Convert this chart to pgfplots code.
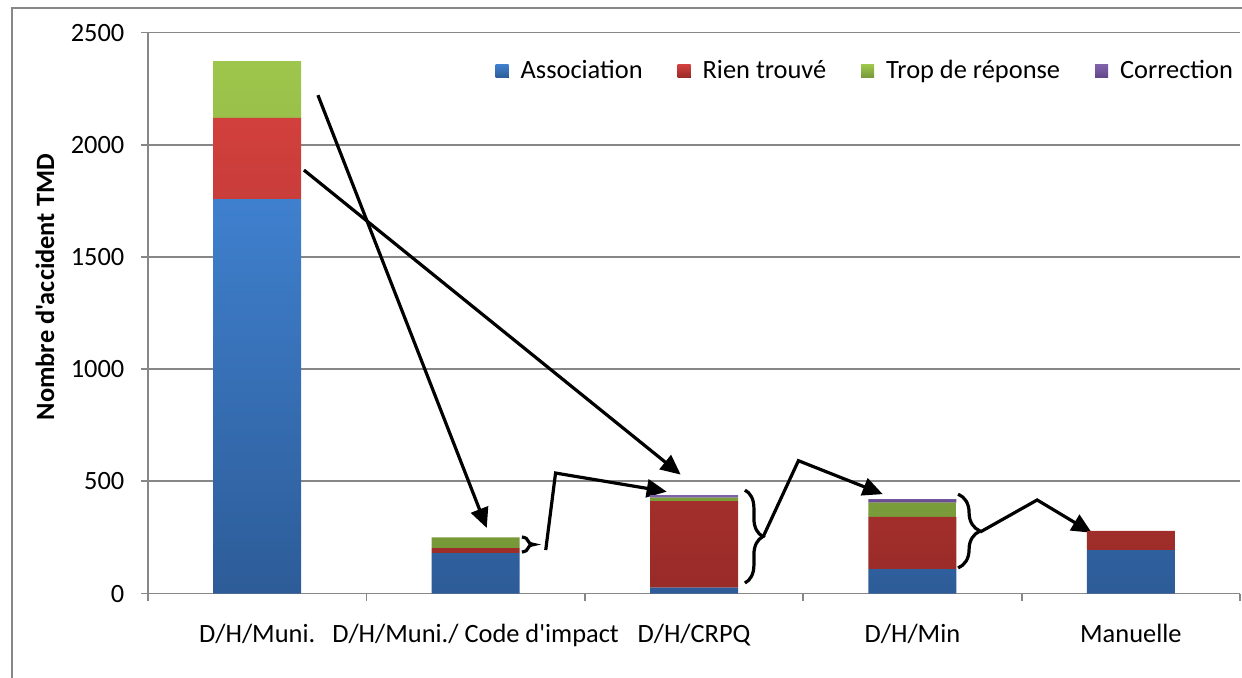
\documentclass[border=0pt]{standalone}
\usepackage{pgfplots}
\pgfplotsset{compat=1.18}
\usepackage{pgfplotstable}
\usepackage{fontspec}
\setmainfont{Carlito}[Ligatures=TeXOff]
\usetikzlibrary{arrows.meta,decorations.pathreplacing}

\definecolor{gridgray}{HTML}{878787}
\definecolor{blueT}{HTML}{3F80CE}
\definecolor{blueB}{HTML}{2D5C98}
\definecolor{redT}{HTML}{D2403D}
\definecolor{redB}{HTML}{992B28}
\definecolor{greenT}{HTML}{9EC64C}
\definecolor{greenB}{HTML}{769838}
\definecolor{purpT}{HTML}{8062AB}
\definecolor{purpB}{HTML}{634789}

% Accidents per matching method and outcome
\pgfplotstableread{
x A R T C
0 1758 362 253 0
1 180 22 48 0
2 26 386 15 12
3 109 233 63 16
4 194 85 0 0
}\datatable

\begin{document}
\begin{tikzpicture}[font=\fontsize{13.2}{16}\selectfont,
  arr/.style={line width=1.6pt, -{Triangle[length=10pt,width=9pt]}}]
\begin{axis}[
  scale only axis, width=546pt, height=280.5pt,
  xmin=-0.5, xmax=4.5, ymin=0, ymax=2500,
  ybar stacked, bar width=0.403,
  xtick={-0.5,0.5,1.5,2.5,3.5,4.5}, xticklabels={},
  extra x ticks={0,1,2,3,4},
  extra x tick labels={D/H/Muni., D/H/Muni./ Code d'impact, D/H/CRPQ, D/H/Min, Manuelle},
  extra x tick style={major tick length=0pt, tick label style={yshift=-12pt}},
  ytick={0,500,1000,1500,2000,2500},
  ymajorgrids, grid style={gridgray, line width=0.9pt},
  axis x line*=bottom, axis y line*=left,
  axis line style={gridgray, line width=0.9pt, -},
  tick style={gridgray, line width=0.9pt},
  tick align=outside, major tick length=3.5pt,
  yticklabel style={xshift=-4.8pt},
  /pgf/number format/assume math mode=true,
  /pgf/number format/1000 sep={},
  ylabel={\bfseries Nombre d'accident TMD},
  every axis y label/.style={at={(axis description cs:-0.0943,0.546)}, anchor=center, rotate=90},
  legend columns=4,
  legend style={at={(axis cs:1.09,2328)}, anchor=west, draw=none, fill=none, inner sep=0pt,
    /tikz/every even column/.append style={column sep=15.5pt},
    /tikz/every odd column/.append style={column sep=4pt}},
  sq legend/.style={legend image code/.code={\fill[##1] (0pt,-3.25pt) rectangle (6.5pt,3.25pt);}},
  clip=false,
]
\addplot[draw=none, top color=blueT, bottom color=blueB, sq legend] table[x=x,y=A] {\datatable};
\addlegendentry{Association}
\addplot[draw=none, top color=redT, bottom color=redB, sq legend] table[x=x,y=R] {\datatable};
\addlegendentry{Rien trouvé}
\addplot[draw=none, top color=greenT, bottom color=greenB, sq legend] table[x=x,y=T] {\datatable};
\addlegendentry{Trop de réponse}
\addplot[draw=none, top color=purpT, bottom color=purpB, sq legend] table[x=x,y=C] {\datatable};
\addlegendentry{Correction}

% arrows from the first method to the next ones
\draw[arr] (axis cs:0.278,2221) -- (axis cs:1.051,292);
\draw[arr] (axis cs:0.214,1887) -- (axis cs:1.939,530);

% braces and links between remaining cases
\draw[line width=1.6pt, decorate, decoration={brace, amplitude=6pt}] (axis cs:1.212,252) -- (axis cs:1.212,185);
\draw[arr] (axis cs:1.321,194) -- (axis cs:1.366,537) -- (axis cs:1.875,454);

\draw[line width=1.6pt, decorate, decoration={brace, amplitude=9pt}] (axis cs:2.233,461) -- (axis cs:2.233,47);
\draw[arr] (axis cs:2.316,252) -- (axis cs:2.478,592) -- (axis cs:2.864,443);

\draw[line width=1.6pt, decorate, decoration={brace, amplitude=11pt}] (axis cs:3.209,443) -- (axis cs:3.209,114);
\draw[arr] (axis cs:3.310,274) -- (axis cs:3.571,417) -- (axis cs:3.821,271);

% chart frame
\draw[gridgray, line width=1pt] (axis cs:-1.123,-600) -- (axis cs:-1.123,2609) -- (axis cs:5,2609);

\coordinate (bbsw) at (axis cs:-1.1777,-372);
\coordinate (bbne) at (axis cs:4.509,2645);
\end{axis}
\pgfresetboundingbox
\path[use as bounding box] (bbsw) rectangle (bbne);
\end{tikzpicture}
\end{document}
